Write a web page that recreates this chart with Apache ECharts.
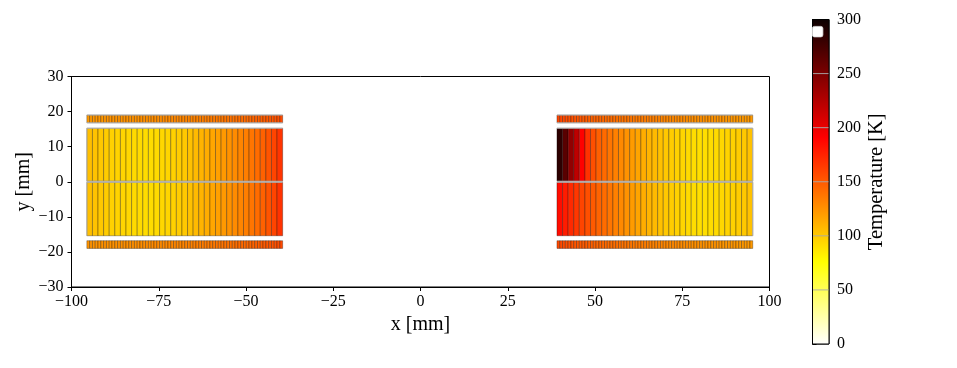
<!DOCTYPE html>
<html><head><meta charset="utf-8">
<style>html,body{margin:0;padding:0;background:#fff}#c{width:957px;height:368px}</style>
<script src="https://cdn.jsdelivr.net/npm/echarts@6/dist/echarts.min.js"></script>
</head><body><div id="c"></div>
<script>
const leftMainTop=[105,103,101,99,97,96,95,94,93,93,92,92,93,94,95,97,99,101,104,107,110,113,116,119,122,125,128,131,134,138,142,147,153,160,167];
const leftMainBottom=[105,103,101,99,97,96,95,94,93,93,92,92,93,94,95,97,99,101,104,107,110,113,116,119,122,125,128,131,134,138,142,147,153,160,168];
const rightMainTop=[285,265,240,220,190,168,155,148,143,138,133,129,125,121,117,113,110,107,104,101,99,97,95,93,92,91,91,92,93,94,96,97,99,101,104];
const rightMainBottom=[185,178,172,166,160,155,150,146,142,138,133,129,125,121,117,113,110,107,104,101,99,97,95,93,92,91,91,92,93,94,96,97,99,101,104];
const leftThinTop=[122,122,123,123,123,123,123,124,124,124,124,124,124,125,125,125,125,125,125,126,126,126,126,127,127,127,127,128,128,128,129,129,129,130,130,131,131,131,132,132,133,133,134,134,135,135,136,136,137,138,138,139,139,140,141,142,142,143,144,145,146,147,148,149,150,151,152,153,155,157];
const leftThinBottom=[124,124,124,124,124,125,125,125,125,125,125,125,126,126,126,126,126,126,127,127,127,127,127,128,128,128,128,129,129,129,130,130,130,131,131,132,132,132,133,133,134,134,135,135,136,136,137,137,138,139,139,140,140,141,142,143,143,144,145,146,147,148,149,150,151,152,153,154,156,158];
const rightThinTop=[160,158,157,156,155,154,153,152,151,150,149,148,147,146,146,145,144,143,142,142,141,140,139,139,138,138,137,136,136,135,135,134,134,133,133,132,132,131,131,130,130,129,129,128,128,128,127,127,127,126,126,126,125,125,125,125,124,124,124,124,123,123,123,123,123,122,122,122,122,122];
const rightThinBottom=[158,157,156,155,154,153,152,151,150,150,149,148,147,146,145,145,144,143,142,141,141,140,139,139,138,137,137,136,136,135,134,134,133,133,132,132,131,131,130,130,129,129,129,128,128,127,127,127,126,126,126,125,125,125,125,124,124,124,124,123,123,123,123,123,122,122,122,122,122,122];
const xTicks=[-100,-75,-50,-25,0,25,50,75,100];
const yTicks=[-30,-20,-10,0,10,20,30];
const cbTicks=[0,50,100,150,200,250,300];

const mainW=1.603, thinW=0.8015;
const xL=-95.6, xR=39.1, xLEnd=xL+35*mainW, xREnd=xR+35*mainW;
const yTop=15.25, yBot=-15.4, yGap=0.15;
function cells(x0,w,y0,y1,vals){return vals.map((v,i)=>[x0+i*w,x0+(i+1)*w,y0,y1,v]);}
const cellData=[].concat(
 cells(xL,mainW,yGap,yTop,leftMainTop),
 cells(xL,mainW,yBot,-yGap,leftMainBottom),
 cells(xR,mainW,yGap,yTop,rightMainTop),
 cells(xR,mainW,yBot,-yGap,rightMainBottom),
 cells(xL,thinW,16.8,19,leftThinTop),
 cells(xL,thinW,-19,-16.8,leftThinBottom),
 cells(xR,thinW,16.8,19,rightThinTop),
 cells(xR,thinW,-19,-16.8,rightThinBottom));
const outline=[
 [xL,yTop,xLEnd,yTop],[xL,yGap,xL,yTop],[xL,yGap,xLEnd,yGap],[xL,-yGap,xLEnd,-yGap],[xL,yBot,xL,-yGap],
 [xR,yTop,xREnd,yTop],[xREnd,yGap,xREnd,yTop],[xR,yGap,xREnd,yGap],[xR,-yGap,xREnd,-yGap],[xREnd,yBot,xREnd,-yGap],
 [xL,19,xLEnd,19],[xL,16.8,xLEnd,16.8],[xR,19,xREnd,19],[xR,16.8,xREnd,16.8]];

function hotR(v){
 const t=1-Math.max(0,Math.min(1,v/300));
 const r=Math.min(1,0.0416+t*(1-0.0416)/0.365);
 const g=Math.max(0,Math.min(1,(t-0.365)/0.381));
 const b=Math.max(0,Math.min(1,(t-0.746)/0.254));
 return 'rgb('+Math.round(r*255)+','+Math.round(g*255)+','+Math.round(b*255)+')';
}
const minus=v=>String(v).replace('-','\u2212');
const font='"Liberation Serif","Times New Roman",serif';
const cbStops=[0,0.1,0.2,0.254,0.4,0.5,0.635,0.8,0.9,1].map(f=>({offset:1-f,color:hotR(f*300)}));
const lab={fontFamily:font,fontSize:16,color:'#000',margin:8};

const chart=echarts.init(document.getElementById('c'),null,{renderer:'canvas'});
chart.setOption({
 animation:false,backgroundColor:'#fff',
 grid:[
  {left:71.5,top:76.5,width:698,height:210.5,show:true,borderColor:'#000',borderWidth:1,backgroundColor:'#fff'},
  {left:812.5,top:19.5,width:16.5,height:324.5,show:true,borderColor:'#000',borderWidth:1,backgroundColor:'transparent'}
 ],
 xAxis:[
  {gridIndex:0,type:'value',min:-100,max:100,interval:25,name:'x [mm]',nameLocation:'middle',nameGap:27,
   nameTextStyle:{fontFamily:font,fontSize:20,color:'#000'},
   axisLine:{show:true,onZero:false,lineStyle:{color:'#000',width:1}},axisTick:{show:true,length:4,lineStyle:{color:'#000',width:1}},
   splitLine:{show:false},axisLabel:{...lab,margin:7,formatter:minus,customValues:xTicks}},
  {gridIndex:1,type:'value',min:0,max:1,show:false}
 ],
 yAxis:[
  {gridIndex:0,type:'value',min:-30,max:30,interval:10,name:'y [mm]',nameLocation:'middle',nameGap:38,nameRotate:90,nameMoveOverlap:false,
   nameTextStyle:{fontFamily:font,fontSize:20,color:'#000'},
   axisLine:{show:true,onZero:false,lineStyle:{color:'#000',width:1}},axisTick:{show:true,length:4,lineStyle:{color:'#000',width:1}},
   splitLine:{show:false},axisLabel:{...lab,formatter:minus,customValues:yTicks,padding:[6,0,0,0]}},
  {gridIndex:1,type:'value',position:'right',min:0,max:300,interval:50,name:'Temperature [K]',nameLocation:'middle',nameGap:37,nameRotate:90,
   nameTextStyle:{fontFamily:font,fontSize:20.5,color:'#000'},
   axisLine:{show:true,lineStyle:{color:'#000',width:1}},axisTick:{show:true,length:4,lineStyle:{color:'#000',width:1}},
   splitLine:{show:false},axisLabel:{...lab,padding:[6,0,0,0]}}
 ],
 series:[
  {type:'custom',xAxisIndex:0,yAxisIndex:0,silent:true,clip:true,data:cellData,encode:{x:[0,1],y:[2,3]},
   renderItem(p,api){
    const a=api.coord([api.value(0),api.value(3)]),b=api.coord([api.value(1),api.value(2)]);
    return {type:'rect',shape:{x:a[0],y:a[1],width:b[0]-a[0],height:b[1]-a[1]},
     style:{fill:hotR(api.value(4)),stroke:'rgba(0,0,0,0.38)',lineWidth:0.8}};
   }},
  {type:'custom',xAxisIndex:0,yAxisIndex:0,silent:true,data:outline,encode:{x:[0,2],y:[1,3]},z:3,
   renderItem(p,api){
    const a=api.coord([api.value(0),api.value(1)]),b=api.coord([api.value(2),api.value(3)]);
    return {type:'line',shape:{x1:a[0],y1:a[1],x2:b[0],y2:b[1]},style:{stroke:'#b4b4b4',lineWidth:1}};
   }},
  {type:'custom',xAxisIndex:1,yAxisIndex:1,silent:true,data:[[0,0,1,300]],encode:{x:[0,2],y:[1,3]},
   renderItem(p,api){
    const a=api.coord([0,300]),b=api.coord([1,0]);
    return {type:'rect',shape:{x:a[0],y:a[1],width:b[0]-a[0],height:b[1]-a[1]},
     style:{fill:{type:'linear',x:0,y:0,x2:0,y2:1,colorStops:cbStops},stroke:'#000',lineWidth:1}};
   }},
  {type:'custom',xAxisIndex:1,yAxisIndex:1,silent:true,data:cbTicks.slice(1,-1).map(t=>[0,t]),encode:{y:1},z:3,
   renderItem(p,api){
    const a=api.coord([0,api.value(1)]),b=api.coord([1,api.value(1)]);
    return {type:'line',shape:{x1:a[0]+0.5,y1:a[1],x2:b[0]-0.5,y2:b[1]},style:{stroke:'rgba(170,170,170,0.9)',lineWidth:1}};
   }}
 ],
 graphic:[{type:'rect',left:812,top:26,z:100,shape:{width:10.5,height:10.5,r:2},
  style:{fill:'#fff',stroke:'#ddd',lineWidth:0.8}}]
});
</script></body></html>
